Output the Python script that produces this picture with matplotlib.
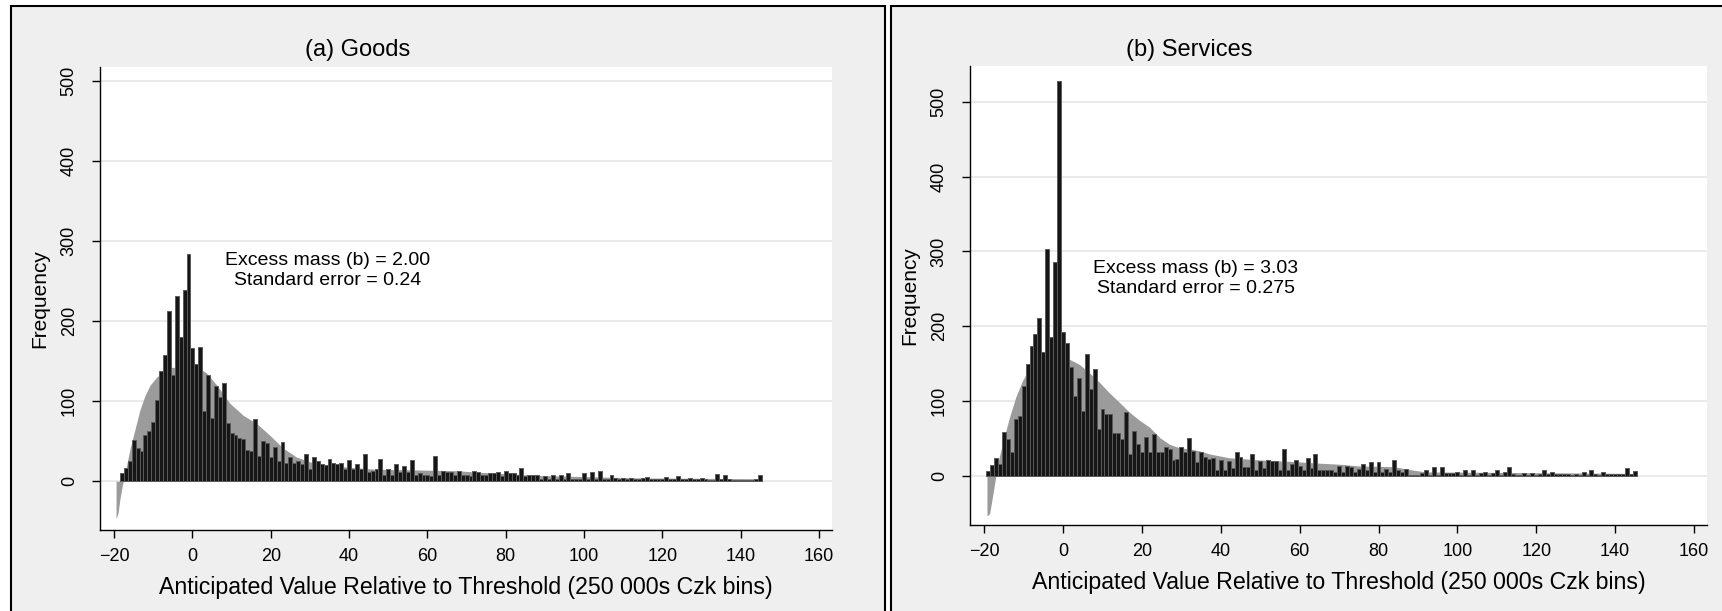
import matplotlib
matplotlib.use("Agg")
import matplotlib.pyplot as plt
import numpy as np
from matplotlib.patches import Rectangle

plt.rcParams['font.family'] = ['Liberation Sans', 'DejaVu Sans']

# ---- goods: bar heights for bins -18 .. 145 ----
goods_bins = np.arange(-18, 146)
goods_freq = [
    10, 16, 25, 51, 41, 37, 57, 62, 74, 101, 137, 157, 212, 132, 231, 180, 239, 283,
    166, 146, 168, 87, 133, 79, 119, 105, 122, 72, 60, 58, 54, 53, 39, 38, 78, 32,
    50, 47, 30, 43, 25, 49, 23, 30, 23, 25, 22, 34, 15, 30, 25, 21, 20, 28, 23, 22,
    23, 15, 26, 15, 21, 15, 34, 12, 13, 15, 28, 8, 15, 8, 21, 12, 19, 12, 26, 8,
    10, 7.5, 7.5, 7, 32, 7.5, 13, 11, 12, 7.5, 13, 7.5, 7.5, 7, 12.5, 12, 7.5, 8,
    10, 10, 12, 7, 13, 10, 10, 7.5, 16, 7, 7.5, 8, 8, 2.5, 7, 2.5, 8, 2.5, 8, 2.5,
    10, 2.5, 2.5, 2.5, 10, 2.5, 12, 2.5, 13, 2.5, 2.5, 8, 4, 2.5, 4, 2.5, 4, 2.5,
    2.5, 4, 5, 2.5, 2.5, 2.5, 2.5, 5,
    2.5, 2.5, 6, 2.5, 2.5, 4, 2.5, 2.5, 4, 2.5, 2, 2, 9, 2.5, 8, 2.5, 2, 2, 2, 2,
    2, 2, 2.5, 8,
]

# counterfactual (grey area) for goods
goods_cf_x = [-19.5, -19.0, -18.5, -18.0, -17.2, -16.8, -15.9, -14.6, -13.4, -12.1,
              -10.8, -9.1, -7.4, -5.3, -2.0, 2.4, 3.6, 6.2, 9.6, 13.0, 16.4, 19.8,
              23.2, 26.6, 30.0, 33.4, 38.5, 46.2, 67.4, 73.3, 88.7, 114.2, 145.5]
goods_cf_y = [-47, -40, -22, -8, 10, 20, 41, 66, 89, 107, 120, 130, 137, 142, 142,
              139, 135, 120, 97, 82, 72, 57, 41, 30, 24, 20, 18, 15, 13, 11, 7, 4, 3]

# ---- services: bar heights for bins -19 .. 145 ----
serv_bins = np.arange(-19, 146)
serv_freq = [
    6, 14, 24, 16, 58, 49, 31, 76, 80, 120, 150, 174, 190, 211, 166, 303, 185, 286,
    528, 192, 178, 145, 107, 131, 86, 163, 116, 143, 62, 89, 83, 83, 57, 57, 49, 85,
    29, 60, 42, 31, 52, 31, 56, 31, 31, 38, 36, 21, 22, 38, 31, 51, 33, 18, 31, 25,
    22,
    23, 7, 21, 7, 19, 10, 31, 25, 12, 12, 29, 7, 19, 10, 21, 19, 19, 7, 36, 7,
    16, 21, 13, 7, 23, 10, 29, 8, 8, 8, 8, 5, 13, 5, 13, 12, 4.5, 9, 16, 8,
    18, 4.5, 18, 4.5, 9, 4.5, 21, 7, 4.5, 9, 1, 1, 1, 3.5, 7, 1, 11, 1, 11, 3.5,
    3.5, 3.5, 5, 1, 7, 1, 7, 1, 3.5, 4.5, 1, 3.5, 7, 1, 4.5, 11, 2, 1, 1, 3,
    1, 3, 1,
    2, 7.5, 2, 4.5, 2, 2, 2, 2, 1, 2, 1, 4.5, 1, 7.5, 2, 1, 4.5, 2, 2, 2,
    2, 2, 10, 2, 6,
]

serv_cf_x = [-19.3, -19.0, -18.6, -17.8, -17.1, -16.5, -15.4, -13.7, -12.0, -10.3,
             -8.6, -6.1, -3.5, -1.0, 1.5, 4.1, 6.6, 9.2, 11.7, 14.3, 16.8, 19.4,
             21.9, 24.5, 27.0, 29.6, 32.1, 34.7, 37.2, 42.0, 50.0, 58.0, 64.0,
             71.0, 75.0, 84.0, 88.0, 92.0, 120.0, 145.5]
serv_cf_y = [-53, -53, -50, -25, -2, 18, 42, 76, 105, 127, 143, 152, 158, 160, 156,
             149, 138, 125, 111, 98, 85, 74, 65, 51, 42, 37, 36, 33, 29, 24, 21, 19,
             17, 15, 13, 12, 8, 5, 4, 3]

titles = ["(a) Goods", "(b) Services"]
notes = [("Excess mass (b) = 2.00", "Standard error = 0.24"),
         ("Excess mass (b) = 3.03", "Standard error = 0.275")]

W, H = 1722, 611
fig = plt.figure(figsize=(W / 100, H / 100), dpi=100)
fig.patch.set_facecolor('white')

# panel backgrounds (pixel boxes: x0, x1)
for x0, x1 in [(11, 885), (891, 1730)]:
    fig.add_artist(Rectangle((x0 / W, -0.02), (x1 - x0) / W, (H - 6) / H + 0.02,
                             transform=fig.transFigure, facecolor='#efefef',
                             edgecolor='black', linewidth=1.5, zorder=0))

# axes boxes in pixels: left, right, top, bottom
boxes = [(100, 832, 67, 530), (970, 1707, 66, 525)]
ylims = [(-61, 517), (-66, 548)]
data = [(goods_bins, goods_freq, goods_cf_x, goods_cf_y),
        (serv_bins, serv_freq, serv_cf_x, serv_cf_y)]
note_pos = [(34.5, 276, 251), (33.6, 277, 250)]
title_x = [358, 1189]

for i in range(2):
    l, r, t, b = boxes[i]
    ax = fig.add_axes([l / W, 1 - b / H, (r - l) / W, (b - t) / H])
    ax.set_facecolor('white')
    bins, freq, cx, cy = data[i]

    ax.fill_between(cx, 0, cy, color='#9b9b9b', linewidth=0, zorder=2)
    ax.bar(bins, freq, width=1.0, color='#161616', edgecolor='#5a5a5a',
           linewidth=0.7, zorder=3)

    ax.set_xlim(-23.6, 163.3)
    ax.set_ylim(*ylims[i])
    ax.set_xticks(np.arange(-20, 161, 20))
    ax.set_yticks(np.arange(0, 501, 100))
    ax.yaxis.grid(True, color='#e6e6e6', linewidth=1.2, zorder=0)
    ax.set_axisbelow(True)
    for s in ['top', 'right']:
        ax.spines[s].set_visible(False)
    for s in ['left', 'bottom']:
        ax.spines[s].set_color('black')
        ax.spines[s].set_linewidth(1.0)
    ax.tick_params(axis='both', length=6, width=1, color='black', labelsize=13)
    ax.tick_params(axis='x', pad=7)
    ax.tick_params(axis='y', labelrotation=90, pad=10)
    for lab in ax.get_yticklabels():
        lab.set_va('center')

    ax.set_xlabel("Anticipated Value Relative to Threshold (250 000s Czk bins)",
                  fontsize=16.7, labelpad=8)
    ax.set_ylabel("Frequency", fontsize=15, labelpad=8)

    nx, ny1, ny2 = note_pos[i]
    ax.text(nx, ny1, notes[i][0], ha='center', va='center', fontsize=14, zorder=5)
    ax.text(nx, ny2, notes[i][1], ha='center', va='center', fontsize=14, zorder=5)

    fig.text(title_x[i] / W, 1 - 50 / H, titles[i], ha='center', va='center',
             fontsize=17)

fig.savefig("out.png", dpi=100)
